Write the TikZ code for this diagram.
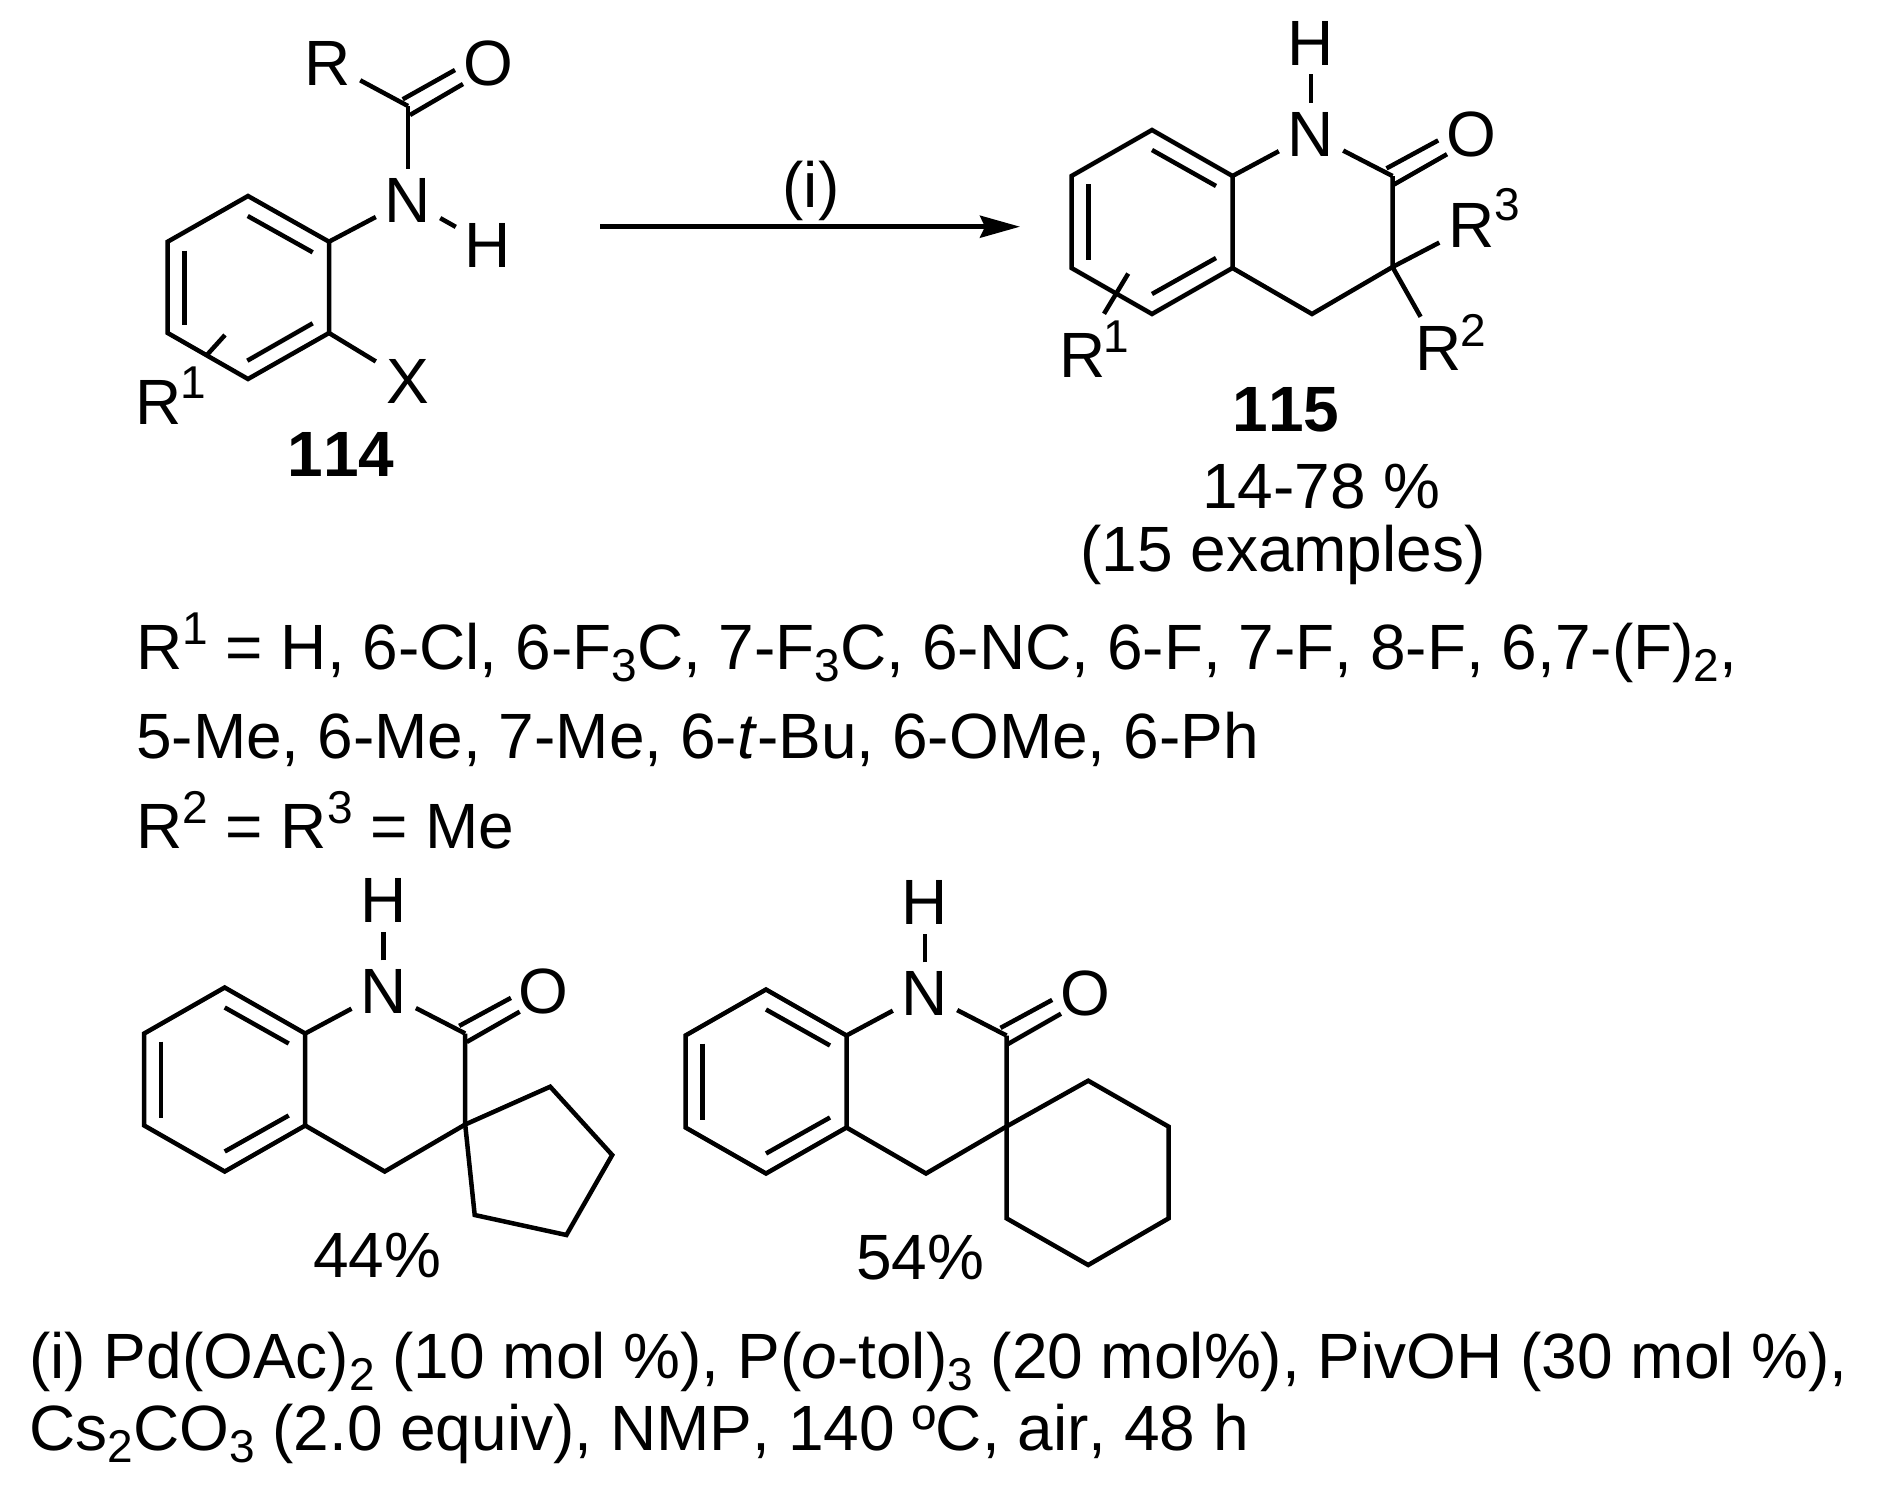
\documentclass[tikz,border=0pt]{standalone}
\usepackage{fontspec}
\setmainfont[Kerning=Off]{Liberation Sans}
\usetikzlibrary{arrows.meta}
\newcommand{\chemfont}{\fontsize{64}{72}\selectfont}
\newcommand{\subnum}[1]{\raisebox{-12pt}{\fontsize{46}{46}\selectfont #1}}
\newcommand{\supnum}[1]{\raisebox{25pt}{\fontsize{46}{46}\selectfont #1}}
\tikzset{
  bond/.style={line width=4.5pt},
  atom/.style={inner sep=0pt, minimum width=64pt, minimum height=62pt, font=\chemfont},
  supatom/.style={inner sep=0pt, font=\fontsize{46}{46}\selectfont},
  txt/.style={inner sep=0pt, anchor=base west, font=\chemfont},
  captxt/.style={inner sep=0pt, anchor=base, font=\chemfont},
  pics/lactam/.style={code={
    \coordinate (-a) at (-80.5,-46); \coordinate (-b) at (0,-92);
    \coordinate (-c) at (80.5,-46); \coordinate (-d) at (80.5,46);
    \coordinate (-e) at (0,92); \coordinate (-f) at (-80.5,46);
    \coordinate (-Ctwo) at (240.5,-46); \coordinate (-Cthree) at (240.5,45);
    \coordinate (-Cfour) at (160,92);
    \node[atom] (-N) at (159,-88) {N};
    \node[atom] (-H) at (159,-179) {H};
    \node[atom] (-O) at (319,-88) {O};
    \draw[bond] (-a) -- (-b) -- (-c) -- (-d) -- (-e) -- (-f) -- cycle;
    \coordinate (-in1) at (0,-72); \coordinate (-in2) at (64,-36);
    \coordinate (-in3) at (-63.5,-38); \coordinate (-in4) at (-63.5,38);
    \coordinate (-in5) at (0,72); \coordinate (-in6) at (64,36);
    \draw[bond] (-in1) -- (-in2);
    \draw[bond] (-in3) -- (-in4);
    \draw[bond] (-in5) -- (-in6);
    \draw[bond] (-c) -- (-N);
    \draw[bond] (-N) -- (-H);
    \draw[bond] (-N) -- (-Ctwo);
    \draw[bond] (-Ctwo) -- (-Cthree) -- (-Cfour) -- (-d);
    \coordinate (-co1) at (234.5,-53.6); \coordinate (-co2) at (286.2,-81.6);
    \coordinate (-co3) at (242,-37.5); \coordinate (-co4) at (295,-67.8);
    \draw[bond] (-co1) -- (-co2);
    \draw[bond] (-co3) -- (-co4);
  }}
}
\begin{document}
\begin{tikzpicture}[x=1pt,y=-1pt]
\useasboundingbox (0,0) rectangle (1883,1507);
% amide 114
\coordinate (a1) at (167.7,241.7); \coordinate (a2) at (248,196);
\coordinate (a3) at (329,241.7); \coordinate (a4) at (329,333);
\coordinate (a5) at (248,379); \coordinate (a6) at (167.7,333);
\draw[bond] (a1) -- (a2) -- (a3) -- (a4) -- (a5) -- (a6) -- cycle;
\coordinate (ai1) at (247.7,216); \coordinate (ai2) at (312.7,252.3);
\coordinate (ai3) at (184.3,250.7); \coordinate (ai4) at (184.3,325);
\coordinate (ai5) at (247.3,360.7); \coordinate (ai6) at (312.7,323.3);
\draw[bond] (ai1) -- (ai2);
\draw[bond] (ai3) -- (ai4);
\draw[bond] (ai5) -- (ai6);
\node[atom] (aN) at (408,200) {N};
\node[atom] (aH) at (488,245) {H};
\node[atom] (aX) at (408,381) {X};
\node[atom] (aR) at (328,63) {R};
\node[atom] (aO) at (488,63) {O};
\coordinate (aC) at (408,106);
\draw[bond] (a3) -- (aN);
\draw[bond] (aN) -- (aH);
\draw[bond] (aN) -- (aC);
\draw[bond] (aC) -- (aR);
\draw[bond] (a4) -- (aX);
\coordinate (ac1) at (402.7,99.3); \coordinate (ac2) at (455,70);
\coordinate (ac3) at (410,115); \coordinate (ac4) at (463,84);
\draw[bond] (ac1) -- (ac2);
\draw[bond] (ac3) -- (ac4);
\coordinate (as1) at (206,356); \coordinate (as2) at (225,335);
\draw[bond] (as1) -- (as2);
\node[atom] (aRa) at (159,402) {R};
\node[supatom, xshift=34pt, yshift=19pt] (aRb) at (aRa) {1};
\node[captxt, font=\chemfont\bfseries] (lab114) at (341,476) {114};
% arrow
\coordinate (start) at (600,226.7); \coordinate (stop) at (1020,226.7);
\draw[bond, -{Stealth[length=40pt,width=22pt,inset=5pt]}] (start) -- (stop);
\node[captxt] (cond) at (811,207.7) {(i)};
% product 115
\pic (qa) at (1152,222) {lactam};
\node[atom] (qaRc) at (1471.5,225.8) {R};
\node[supatom, xshift=36pt, yshift=21pt] (qaRd) at (qaRc) {3};
\node[atom] (qaRe) at (1438.2,348) {R};
\node[supatom, xshift=35pt, yshift=18pt] (qaRf) at (qaRe) {2};
\draw[bond] (qa-Cthree) -- (qaRc);
\draw[bond] (qa-Cthree) -- (qaRe);
\coordinate (qs1) at (1128.2,273.6); \coordinate (qs2) at (1104,313.8);
\draw[bond] (qs1) -- (qs2);
\node[atom] (qaRa) at (1082.3,355) {R};
\node[supatom, xshift=34pt, yshift=18pt] (qaRb) at (qaRa) {1};
\node[captxt, font=\chemfont\bfseries] (lab115) at (1286,431.7) {115};
\node[captxt] (yield) at (1321.5,508) {14-78 \%};
\node[captxt] (scope) at (1283,571) {(15 examples)};
% substituents
\node[txt] (lineA) at (136,669.5) {R\supnum{1} = H, 6-Cl, 6-F\subnum{3}C, 7-F\subnum{3}C, 6-NC, 6-F, 7-F, 8-F, 6,7-(F)\subnum{2},};
\node[txt] (lineB) at (136,758.5) {5-Me, 6-Me, 7-Me, 6-\textit{t}-Bu, 6-OMe, 6-Ph};
\node[txt] (lineC) at (136,848) {R\supnum{2} = R\supnum{3} = Me};
% spiro examples
\pic (qb) at (224.7,1079.5) {lactam};
\coordinate (p1) at (550.2,1086.7); \coordinate (p2) at (612.2,1155);
\coordinate (p3) at (566.4,1235); \coordinate (p4) at (474.7,1215);
\draw[bond] (qb-Cthree) -- (p1) -- (p2) -- (p3) -- (p4) -- cycle;
\node[captxt] (yb) at (377.4,1277) {44\%};
\pic (qc) at (766,1081.5) {lactam};
\coordinate (h1) at (1088.2,1080.7); \coordinate (h2) at (1168.7,1126.7);
\coordinate (h3) at (1168.7,1218.3); \coordinate (h4) at (1088.2,1265);
\coordinate (h5) at (1006.5,1218.3);
\draw[bond] (qc-Cthree) -- (h1) -- (h2) -- (h3) -- (h4) -- (h5) -- cycle;
\node[captxt] (yc) at (920.4,1279) {54\%};
% conditions
\node[txt] (lineD) at (29,1378) {(i) Pd(OAc)\subnum{2} (10 mol \%), P(\textit{o}-tol)\subnum{3} (20 mol\%), PivOH (30 mol \%),};
\node[txt] (lineE) at (29,1450) {Cs\subnum{2}CO\subnum{3} (2.0 equiv), NMP, 140 ºC, air, 48 h};
\end{tikzpicture}
\end{document}
